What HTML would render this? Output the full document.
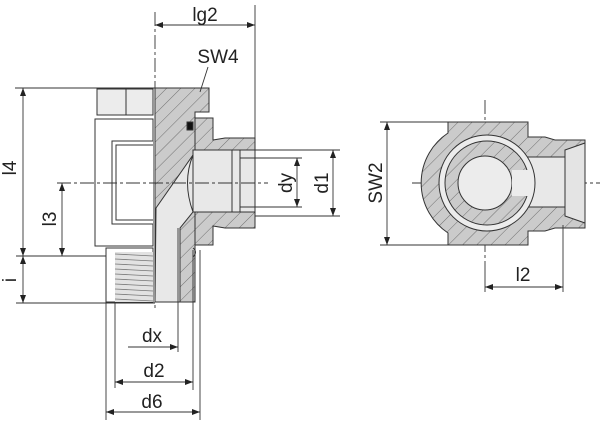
<!DOCTYPE html>
<html><head><style>
html,body{margin:0;padding:0;background:#fff;}
svg{display:block;}
text{font-family:"Liberation Sans",sans-serif;font-size:19px;fill:#222;}
</style></head><body>
<svg width="600" height="423" viewBox="0 0 600 423" xmlns="http://www.w3.org/2000/svg">
<defs>
<pattern id="h" width="10" height="10" patternUnits="userSpaceOnUse" patternTransform="rotate(45)">
<rect width="10" height="10" fill="#cbcbcb"/><line x1="0" y1="0" x2="0" y2="10" stroke="#666" stroke-width="0.9"/>
</pattern>
<marker id="a" markerWidth="8" markerHeight="6" refX="8" refY="3" orient="auto" markerUnits="userSpaceOnUse"><path d="M0,0 L8,3 L0,6z" fill="#222"/></marker>
<marker id="b" markerWidth="8" markerHeight="6" refX="0" refY="3" orient="auto" markerUnits="userSpaceOnUse"><path d="M8,0 L0,3 L8,6z" fill="#222"/></marker>
</defs>
<g stroke="#333" stroke-width="1" fill="none">
<rect x="97" y="89" width="56" height="26" fill="#ececec"/>
<line x1="126" y1="89" x2="126" y2="115"/>
<rect x="95" y="119" width="58" height="127" fill="#fff"/>
<path d="M153 141 H112 V224 H153" fill="#fff"/>
<path d="M153 145 H116 V220 H153"/>
<rect x="106" y="248" width="47" height="54" fill="#fff"/>
<rect x="115" y="252" width="38" height="50" fill="#e2e2e2" stroke="none"/>
<g stroke="#777" stroke-width="0.8">
<path d="M115 254 L153 256 M115 259 L153 261 M115 264 L153 266 M115 269 L153 271 M115 274 L153 276 M115 279 L153 281 M115 284 L153 286 M115 289 L153 291 M115 294 L153 296 M115 299 L153 301"/>
</g>
<path d="M155 88 H209 V112 H195 V302 H155 Z" fill="url(#h)"/>
<path d="M195 118 H213 V140 L225 138 H255 V228 H225 L213 226 V245 H195 Z" fill="url(#h)"/>
<path d="M193 150 H255 V212 H193 Z" fill="#e8e8e8"/>
<path d="M156 208 L193 155 V212 L180 228 V302 H155 Z" fill="#e8e8e8"/>
<path d="M193 155 Q182 182 193 212"/>
<path d="M232 150 V212 M240 150 V212"/>
<rect x="187" y="122" width="6" height="8" fill="#111"/>
<path d="M193 248 Q198 252 193 257" />
</g>
<g stroke="#333" stroke-width="0.9" stroke-dasharray="14 3 3 3">
<line x1="155" y1="12" x2="155" y2="310"/>
<line x1="57" y1="183" x2="268" y2="183"/>
<line x1="412" y1="183" x2="600" y2="183"/>
<line x1="485" y1="100" x2="485" y2="270"/>
</g>
<g stroke="#333" stroke-width="1">
<path d="M448 122 H528 V137 H545 L555 140 H585 V228 H555 L545 231 H528 V245 H448 V233 A60 60 0 0 1 448 133 Z" fill="url(#h)"/>
<rect x="500" y="157" width="65" height="50" fill="#e8e8e8"/>
<path d="M565 150 L585 143 V223 L565 216 Z" fill="#e4e4e4"/>
<line x1="565" y1="150" x2="565" y2="216"/>
<circle cx="487" cy="183" r="48" fill="#ececec"/>
<circle cx="487" cy="183" r="42" fill="url(#h)"/>
<circle cx="485" cy="183" r="27" fill="#ececec"/>
<path d="M512 170 H530 V196 H512" fill="#ececec" stroke="none"/>
</g>
<g stroke="#333" stroke-width="0.9" fill="none">
<line x1="255" y1="5" x2="255" y2="150"/>
<line x1="155" y1="25" x2="255" y2="25" marker-start="url(#b)" marker-end="url(#a)"/>
<line x1="208" y1="67" x2="200" y2="92"/>
<line x1="15" y1="88" x2="155" y2="88"/>
<line x1="16" y1="256" x2="106" y2="256"/>
<line x1="16" y1="303" x2="155" y2="303"/>
<line x1="23" y1="88" x2="23" y2="256" marker-start="url(#b)" marker-end="url(#a)"/>
<line x1="23" y1="256" x2="23" y2="303" marker-start="url(#b)" marker-end="url(#a)"/>
<line x1="62" y1="183" x2="62" y2="256" marker-start="url(#b)" marker-end="url(#a)"/>
<line x1="240" y1="158" x2="302" y2="158"/>
<line x1="240" y1="207" x2="302" y2="207"/>
<line x1="255" y1="150" x2="340" y2="150"/>
<line x1="255" y1="216" x2="340" y2="216"/>
<line x1="297" y1="158" x2="297" y2="207" marker-start="url(#b)" marker-end="url(#a)"/>
<line x1="333" y1="150" x2="333" y2="216" marker-start="url(#b)" marker-end="url(#a)"/>
<line x1="178" y1="228" x2="178" y2="352"/>
<line x1="128" y1="347" x2="178" y2="347" marker-end="url(#a)"/>
<line x1="115" y1="303" x2="115" y2="388"/>
<line x1="193" y1="250" x2="193" y2="390"/>
<line x1="115" y1="382" x2="193" y2="382" marker-start="url(#b)" marker-end="url(#a)"/>
<line x1="106" y1="248" x2="106" y2="420"/>
<line x1="200" y1="250" x2="200" y2="420"/>
<line x1="106" y1="412" x2="200" y2="412" marker-start="url(#b)" marker-end="url(#a)"/>
<line x1="380" y1="122" x2="448" y2="122"/>
<line x1="380" y1="245" x2="448" y2="245"/>
<line x1="387" y1="122" x2="387" y2="245" marker-start="url(#b)" marker-end="url(#a)"/>
<line x1="485" y1="270" x2="485" y2="292"/>
<line x1="563" y1="225" x2="563" y2="292"/>
<line x1="485" y1="287" x2="563" y2="287" marker-start="url(#b)" marker-end="url(#a)"/>
</g>
<text x="205" y="21" text-anchor="middle">lg2</text>
<text x="218" y="63" text-anchor="middle">SW4</text>
<text x="152" y="342" text-anchor="middle">dx</text>
<text x="154" y="377" text-anchor="middle">d2</text>
<text x="152" y="408" text-anchor="middle">d6</text>
<text x="523" y="281" text-anchor="middle">l2</text>
<text transform="translate(16,168) rotate(-90)" text-anchor="middle">l4</text>
<text transform="translate(56,219) rotate(-90)" text-anchor="middle">l3</text>
<text transform="translate(16,280) rotate(-90)" text-anchor="middle">i</text>
<text transform="translate(292,183) rotate(-90)" text-anchor="middle">dy</text>
<text transform="translate(328,183) rotate(-90)" text-anchor="middle">d1</text>
<text transform="translate(382,183) rotate(-90)" text-anchor="middle">SW2</text>
</svg>
</body></html>
